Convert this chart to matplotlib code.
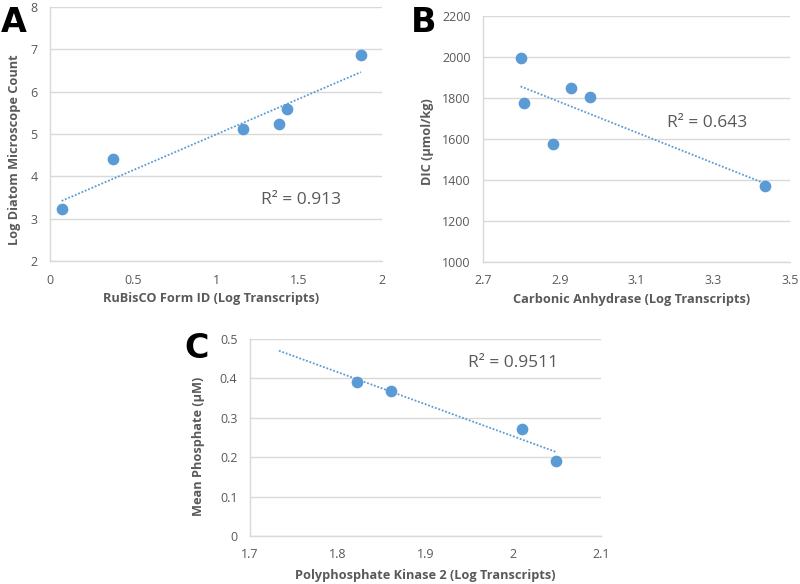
import matplotlib.pyplot as plt
import numpy as np

plt.rcParams['font.family'] = ['Open Sans', 'DejaVu Sans']

# panel A
rubisco = [0.07, 0.377, 1.164, 1.381, 1.425, 1.873]
diatom = [3.22, 4.42, 5.11, 5.23, 5.58, 6.86]
# panel B
carb_anh = [2.798, 2.806, 2.883, 2.930, 2.980, 3.435]
dic = [1993, 1774, 1575, 1847, 1803, 1371]
# panel C
ppk2 = [1.822, 1.861, 2.010, 2.049]
phosphate = [0.391, 0.369, 0.271, 0.191]

blue = '#5B9BD5'
grid = '#D9D9D9'
tickc = '#595959'

W, H = 800, 584
fig = plt.figure(figsize=(8, 5.84), dpi=100)


def px_axes(l, t, r, b):
    return fig.add_axes([l / W, 1 - b / H, (r - l) / W, (b - t) / H])


def style(ax, xlim, ylim, xticks, yticks, xlabels, ylabels, xlab, ylab,
          xl_pos, yl_pos):
    ax.set_xlim(xlim)
    ax.set_ylim(ylim)
    ax.set_xticks(xticks)
    ax.set_xticklabels(xlabels)
    ax.set_yticks(yticks)
    ax.set_yticklabels(ylabels)
    ax.grid(axis='y', color=grid, lw=1)
    ax.set_axisbelow(True)
    for s in ['top', 'right']:
        ax.spines[s].set_visible(False)
    for s in ['left', 'bottom']:
        ax.spines[s].set_color(grid)
        ax.spines[s].set_linewidth(1)
    ax.tick_params(length=0, colors=tickc, labelsize=9, pad=9)
    ax.set_xlabel(xlab, fontsize=9.2, fontweight='bold', color=tickc)
    ax.set_ylabel(ylab, fontsize=9.2, fontweight='bold', color=tickc)
    ax.xaxis.set_label_coords(*xl_pos)
    ax.yaxis.set_label_coords(*yl_pos)


def scatter_fit(ax, x, y, x0=None):
    x = np.array(x)
    y = np.array(y)
    ax.scatter(x, y, s=55, color=blue, zorder=3, clip_on=False)
    m, c = np.polyfit(x, y, 1)
    lo = x.min() if x0 is None else x0
    xs = np.array([lo, x.max()])
    ax.plot(xs, m * xs + c, ls=(0, (1, 1)), color=blue, lw=1.3, zorder=2)


# A
axA = px_axes(50, 7, 382, 261)
scatter_fit(axA, rubisco, diatom)
style(axA, (0, 2), (2, 8), [0, 0.5, 1, 1.5, 2], range(2, 9),
      ['0', '0.5', '1', '1.5', '2'], [str(v) for v in range(2, 9)],
      'RuBisCO Form ID (Log Transcripts)', 'Log Diatom Microscope Count',
      (0.485, -0.124), (-0.087, 0.437))
axA.text(0.636, 0.24, 'R\u00b2 = 0.913', transform=axA.transAxes, fontsize=12.5,
         color=tickc, va='center')

# B
axB = px_axes(483, 16, 790, 262)
scatter_fit(axB, carb_anh, dic)
style(axB, (2.7, 3.5), (1000, 2200), [2.7, 2.9, 3.1, 3.3, 3.5],
      range(1000, 2201, 200), ['2.7', '2.9', '3.1', '3.3', '3.5'],
      [str(v) for v in range(1000, 2201, 200)],
      'Carbonic Anhydrase (Log Transcripts)', 'DIC (\u03bcmol/kg)',
      (0.483, -0.124), (-0.16, 0.488))
axB.text(0.6, 0.565, 'R\u00b2 = 0.643', transform=axB.transAxes, fontsize=12.5,
         color=tickc, va='center')

# C
axC = px_axes(250, 339, 601, 536)
scatter_fit(axC, ppk2, phosphate, x0=1.733)
style(axC, (1.7, 2.1), (0, 0.5), [1.7, 1.8, 1.9, 2.0, 2.1],
      [0, 0.1, 0.2, 0.3, 0.4, 0.5], ['1.7', '1.8', '1.9', '2', '2.1'],
      ['0', '0.1', '0.2', '0.3', '0.4', '0.5'],
      'Polyphosphate Kinase 2 (Log Transcripts)', 'Mean Phosphate (\u03bcM)',
      (0.5, -0.165), (-0.128, 0.457))
axC.text(0.621, 0.878, 'R\u00b2 = 0.9511', transform=axC.transAxes, fontsize=12.5,
         color=tickc, va='center')

for lab, x, y in [('A', 1, 22), ('B', 411, 22), ('C', 184, 349)]:
    fig.text(x / W, 1 - y / H, lab, fontsize=24, fontweight='heavy',
             family='DejaVu Sans', va='center', ha='left')

fig.savefig('out.png', dpi=100)
